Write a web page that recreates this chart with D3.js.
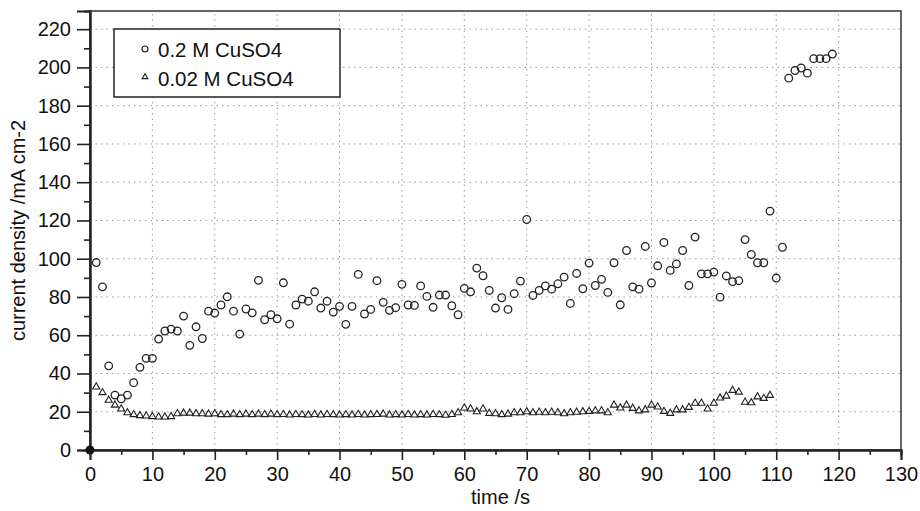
<!DOCTYPE html>
<html><head><meta charset="utf-8">
<script src="https://cdn.jsdelivr.net/npm/d3@7"></script>
<style>body{margin:0;background:#fff}svg{display:block}text{font-family:"Liberation Sans",Arial,Helvetica,sans-serif;fill:#111}</style>
</head><body>
<svg id="c" width="920" height="511"></svg>
<script>
const seriesNames = ["0.2 M CuSO4", "0.02 M CuSO4"];
const xTicks = [0,10,20,30,40,50,60,70,80,90,100,110,120,130];
const yTicks = [0,20,40,60,80,100,120,140,160,180,200,220];
const xLabel = "time /s";
const yLabel = "current density /mA cm-2";
// 0.2 M CuSO4, t = 1..119 s
const circleValues = [98,85.3,44,28.7,26.8,28.7,35.2,43.2,47.9,47.9,58,62.2,63.2,62.2,70,54.7,64.4,58.3,72.6,71.6,
75.8,80.1,72.6,60.6,73.7,71.7,88.7,68.1,70.7,68.6,87.4,65.8,75.8,78.9,77.8,82.7,74.2,77.8,72.1,75.1,
65.7,75.1,91.8,71.1,73.5,88.5,77.2,73,74.4,86.6,75.8,75.6,85.8,80.3,74.6,81,81,75.4,70.7,84.5,
82.7,95.1,91.1,83.4,74.2,79.6,73.5,81.7,88.3,120.5,80.8,83.4,85.8,84.1,86.9,90.4,76.6,92.3,84.3,97.7,
86,89.2,82.4,97.9,75.9,104.3,85.3,84.1,106.4,87.3,96.3,108.5,93.9,97.3,104.3,86,111.3,92.1,92.1,93,
79.9,91,88,88.5,110,102.2,97.9,97.9,124.9,89.9,106,194.4,198.4,199.7,197,204.6,204.6,204.6,207];
// 0.02 M CuSO4, t = 1..109 s
const triangleValues = [33,30,26,23.5,21.5,19.5,18.5,18,17.8,17.5,17.3,17.3,17.5,19,19.3,19.3,19,19,18.8,19,
18.5,18.5,18.8,18.5,18.8,18.5,18.8,18.5,18.8,18.5,18.6,18.3,18.6,18.5,18.3,18.6,18.3,18.6,18.5,18.3,
18.5,18.3,18.6,18.3,18.5,18.6,18.8,18.3,18.5,18.3,18.6,18.3,18.5,18.3,18.6,18.5,18.2,18.6,19.5,22,
21.5,20,21.5,19.2,19,18.5,18.8,19.5,19.5,20,19.5,19.8,19.5,19.8,19.5,19,19.5,19.8,20,20.2,
20.5,20.5,19.5,23.5,22,23.5,21.8,20.5,21,23.5,22.5,20.2,19.2,21,21,22.3,24.5,24.5,21.5,24.5,
27.2,28.2,31.2,30.3,25,24.7,27.8,27,28.6];
const originPoint = [0,0];

const svg = d3.select("#c");
const x = d3.scaleLinear().domain([0,130]).range([90,901]);
const y = d3.scaleLinear().domain([0,229.5]).range([450,11]);

// grid
const g = svg.append("g");
g.selectAll(".gx").data(xTicks.filter(d=>d>0&&d<130)).enter().append("line")
 .attr("x1",d=>x(d)).attr("x2",d=>x(d)).attr("y1",y(0)).attr("y2",y(229.5))
 .attr("stroke","#999").attr("stroke-width",1).attr("stroke-dasharray","1.5,4");
g.selectAll(".gy").data(yTicks.filter(d=>d>0)).enter().append("line")
 .attr("x1",x(0)).attr("x2",x(130)).attr("y1",d=>y(d)).attr("y2",d=>y(d))
 .attr("stroke","#999").attr("stroke-width",1).attr("stroke-dasharray","1.5,4");

// frame
svg.append("rect").attr("x",x(0)).attr("y",y(229.5)).attr("width",x(130)-x(0)).attr("height",y(0)-y(229.5))
 .attr("fill","none").attr("stroke","#333").attr("stroke-width",1.5);

// axes
const xAxis = d3.axisBottom(x).tickValues(xTicks).tickSize(10).tickPadding(5).tickFormat(d3.format("d"));
const xa = svg.append("g").attr("transform",`translate(0,${y(0)})`).call(xAxis);
const xMinor = d3.axisBottom(x).tickValues(d3.range(5,130,10)).tickSize(5).tickFormat("");
const xm = svg.append("g").attr("transform",`translate(0,${y(0)})`).call(xMinor);
const yAxis = d3.axisLeft(y).tickValues(yTicks).tickSize(13).tickPadding(6).tickFormat(d3.format("d"));
const ya = svg.append("g").attr("transform",`translate(${x(0)},0)`).call(yAxis);
const yMinor = d3.axisLeft(y).tickValues(d3.range(10,230,20)).tickSize(6).tickFormat("");
const ym = svg.append("g").attr("transform",`translate(${x(0)},0)`).call(yMinor);
[xa,xm,ya,ym].forEach(a=>{
  a.select(".domain").attr("stroke","#222").attr("stroke-width",2);
  a.selectAll(".tick line").attr("stroke","#222").attr("stroke-width",1.6);
  a.selectAll(".tick text").attr("font-size",20).attr("fill","#111").attr("font-family","Liberation Sans, Arial, sans-serif");
});
xa.selectAll(".tick text").attr("dy","0.8em");

// titles
svg.append("text").attr("x",(x(0)+x(130))/2+5).attr("y",504).attr("text-anchor","middle").attr("font-size",20).text(xLabel);
svg.append("text").attr("transform",`translate(25,${(y(0)+y(229.5))/2}) rotate(-90)`).attr("text-anchor","middle").attr("font-size",20).text(yLabel);

// data
const cData = circleValues.map((v,i)=>[i+1,v]);
const tData = triangleValues.map((v,i)=>[i+1,v]);
const tri = d3.symbol().type(d3.symbolTriangle).size(22);
svg.append("g").selectAll("path").data(tData).enter().append("path")
 .attr("d",tri).attr("transform",d=>`translate(${x(d[0])},${y(d[1])})`)
 .attr("fill","none").attr("stroke","#222").attr("stroke-width",1.1);
svg.append("g").selectAll("circle").data(cData).enter().append("circle")
 .attr("cx",d=>x(d[0])).attr("cy",d=>y(d[1])).attr("r",3.8)
 .attr("fill","none").attr("stroke","#222").attr("stroke-width",1.3);
svg.append("circle").attr("cx",x(originPoint[0])).attr("cy",y(originPoint[1])).attr("r",4.5).attr("fill","#111");

// legend
const lg = svg.append("g");
lg.append("rect").attr("x",114).attr("y",29).attr("width",226).attr("height",68).attr("fill","#fff").attr("stroke","#222").attr("stroke-width",1.5);
lg.append("circle").attr("cx",145).attr("cy",49).attr("r",3).attr("fill","none").attr("stroke","#222").attr("stroke-width",1.2);
lg.append("path").attr("d",d3.symbol().type(d3.symbolTriangle).size(14)).attr("transform","translate(145,77)").attr("fill","none").attr("stroke","#222").attr("stroke-width",1.1);
lg.append("text").attr("x",158).attr("y",57).attr("font-size",20.5).text(seriesNames[0]);
lg.append("text").attr("x",158).attr("y",86).attr("font-size",20.5).text(seriesNames[1]);
</script>
</body></html>
